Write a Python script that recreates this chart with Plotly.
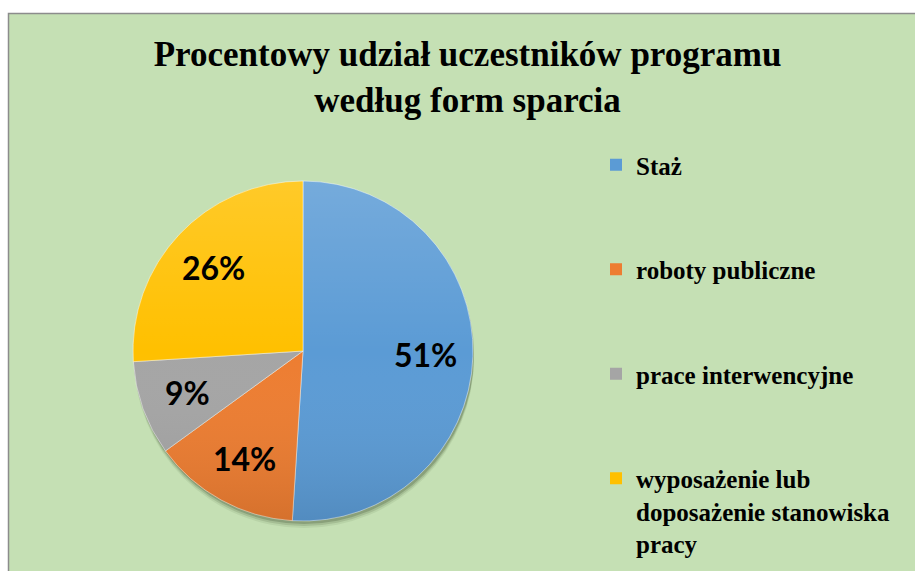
import base64
import math
import plotly.graph_objects as go

# Participation shares by form of support
categories = ["Staż", "roboty publiczne", "prace interwencyjne",
              "wyposażenie lub<br>doposażenie stanowiska<br>pracy"]
shares = [51, 14, 9, 26]
colors = ["#5B9BD5", "#ED7D31", "#A5A5A5", "#FFC000"]

W, H = 915, 571
BG = "#C5E0B4"

# Pie box in pixels -> paper fractions
cx, cy, r = 303, 351, 170
x_dom = [(cx - r) / W, (cx + r) / W]
y_dom = [1 - (cy + r) / H, 1 - (cy - r) / H]

fig = go.Figure()

# soft drop shadow under the pie
for dy, alpha in [(7, 0.08), (5, 0.14), (3, 0.22)]:
    fig.add_trace(go.Pie(
        values=[1], marker=dict(colors=[f"rgba(40,60,30,{alpha})"]),
        domain=dict(x=[x_dom[0] + 1 / W, x_dom[1] + 1 / W],
                    y=[y_dom[0] - dy / H, y_dom[1] - dy / H]),
        textinfo="none", hoverinfo="skip", showlegend=False, sort=False,
    ))

fig.add_trace(go.Pie(
    labels=categories, values=shares, sort=False, direction="clockwise",
    rotation=0, domain=dict(x=x_dom, y=y_dom),
    marker=dict(colors=colors, line=dict(color="rgba(255,255,255,0.45)", width=1)),
    textinfo="none", hoverinfo="label+percent",
    showlegend=False,
))

# percentage labels placed along each slice's middle angle
total = sum(shares)
annotations = []
cum = 0
for v in shares:
    mid = (cum + v / 2) / total * 2 * math.pi  # clockwise from 12 o'clock
    cum += v
    px = cx + 0.72 * r * math.sin(mid)
    py = cy - 0.72 * r * math.cos(mid)
    annotations.append(dict(
        x=px / W, y=1 - py / H, xref="paper", yref="paper",
        xanchor="center", yanchor="middle",
        text=f"{round(v / total * 100)}%", showarrow=False,
        font=dict(family="Lato", size=32, color="black", weight="bold"),
    ))

# vertical light-to-dark sheen over the pie
svg = (
    '<svg xmlns="http://www.w3.org/2000/svg" viewBox="0 0 100 100">'
    '<defs><linearGradient id="g" x1="0" y1="0" x2="0" y2="1">'
    '<stop offset="0" stop-color="#fff" stop-opacity="0.16"/>'
    '<stop offset="0.5" stop-color="#fff" stop-opacity="0"/>'
    '<stop offset="1" stop-color="#000" stop-opacity="0.10"/>'
    '</linearGradient></defs>'
    '<circle cx="50" cy="50" r="50" fill="url(#g)"/></svg>'
)
sheen = "data:image/svg+xml;base64," + base64.b64encode(svg.encode()).decode()

# legend entries, one group each so they can be spaced apart
for name, col in zip(categories, colors):
    fig.add_trace(go.Scatter(
        x=[None], y=[None], mode="markers", name=name, legendgroup=name,
        marker=dict(symbol="square", size=12, color=col),
    ))

fig.update_layout(
    width=W, height=H,
    margin=dict(l=0, r=0, t=0, b=0, autoexpand=False),
    paper_bgcolor="white", plot_bgcolor="rgba(0,0,0,0)",
    xaxis=dict(visible=False, range=[0, 1]), yaxis=dict(visible=False, range=[0, 1]),
    title=dict(
        text="Procentowy udział uczestników programu<br>według form sparcia",
        x=0.511, xanchor="center", y=1 - 66 / H, yanchor="top", yref="container",
        font=dict(family="Liberation Serif", size=35, color="black", weight="bold"),
    ),
    legend=dict(
        x=596 / W, xanchor="left", y=1 - 142 / H, yanchor="top",
        font=dict(family="Liberation Serif", size=25, color="black", weight="bold"),
        tracegroupgap=69, valign="top", bgcolor="rgba(0,0,0,0)",
        traceorder="grouped",
    ),
    annotations=annotations,
    images=[dict(
        source=sheen, xref="paper", yref="paper",
        x=x_dom[0], y=y_dom[1], sizex=x_dom[1] - x_dom[0], sizey=y_dom[1] - y_dom[0],
        xanchor="left", yanchor="top", sizing="stretch", layer="above",
    )],
    shapes=[dict(
        type="rect", xref="paper", yref="paper", layer="below",
        x0=8.5 / W, x1=1.05, y0=-0.05, y1=1 - 13.5 / H,
        fillcolor=BG, line=dict(color="#8C8C8C", width=1.5),
    )],
)

fig.write_html("out.html")
